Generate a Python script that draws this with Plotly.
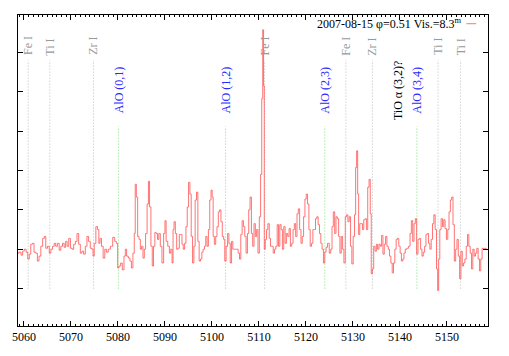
import plotly.graph_objects as go

# spectrum (wavelength in Angstrom, relative flux)
WAVELENGTH = [
    5058.67, 5059.16, 5059.58, 5059.85, 5060.27, 5060.63, 5060.99, 5061.27, 5061.62, 5061.96,
    5062.32, 5062.68, 5063.02, 5063.38, 5063.80, 5064.16, 5064.49, 5064.79, 5065.21, 5065.55,
    5065.91, 5066.27, 5066.60, 5066.90, 5067.32, 5067.66, 5068.02, 5068.38, 5068.71, 5069.01,
    5069.35, 5069.71, 5070.06, 5070.40, 5070.76, 5071.12, 5071.46, 5071.82, 5072.17, 5072.51,
    5072.87, 5073.23, 5073.57, 5073.93, 5074.28, 5074.62, 5074.77, 5075.13, 5075.47, 5075.83,
    5076.04, 5076.31, 5076.67, 5077.03, 5077.37, 5077.72, 5078.15, 5078.63, 5079.14, 5079.48,
    5079.83, 5080.05, 5080.40, 5080.74, 5081.10, 5081.46, 5081.67, 5082.01, 5082.37, 5082.72,
    5083.00, 5083.36, 5083.57, 5083.78, 5084.05, 5084.33, 5084.62, 5084.90, 5085.17, 5085.47,
    5085.74, 5086.02, 5086.38, 5086.59, 5086.86, 5087.16, 5087.43, 5087.70, 5088.00, 5088.27,
    5088.55, 5088.84, 5089.18, 5089.54, 5089.90, 5090.11, 5090.39, 5090.81, 5091.08, 5091.38,
    5091.65, 5091.80, 5092.07, 5092.35, 5092.64, 5092.92, 5093.19, 5093.49, 5093.76, 5094.03,
    5094.33, 5094.60, 5094.88, 5095.17, 5095.45, 5095.72, 5096.02, 5096.29, 5096.57, 5096.86,
    5097.14, 5097.41, 5097.71, 5097.98, 5098.25, 5098.55, 5098.82, 5099.10, 5099.39, 5099.67,
    5099.94, 5100.15, 5100.36, 5100.66, 5100.93, 5101.21, 5101.50, 5101.78, 5102.05, 5102.35,
    5102.62, 5102.83, 5103.19, 5103.47, 5103.74, 5104.04, 5104.31, 5104.58, 5104.88, 5105.15,
    5105.43, 5105.72, 5106.00, 5106.27, 5106.57, 5106.84, 5107.12, 5107.41, 5107.69, 5107.96,
    5108.26, 5108.53, 5108.80, 5109.10, 5109.37, 5109.65, 5109.94, 5110.22, 5110.49, 5110.70,
    5110.91, 5111.06, 5111.21, 5111.48, 5111.76, 5112.05, 5112.33, 5112.60, 5112.90, 5113.17,
    5113.45, 5113.74, 5114.02, 5114.29, 5114.59, 5114.86, 5115.13, 5115.43, 5115.70, 5115.98,
    5116.27, 5116.55, 5116.82, 5117.12, 5117.39, 5117.67, 5117.96, 5118.24, 5118.51, 5118.81,
    5119.08, 5119.35, 5119.65, 5119.92, 5120.20, 5120.49, 5120.77, 5121.04, 5121.34, 5121.61,
    5121.89, 5122.18, 5122.46, 5122.73, 5123.03, 5123.30, 5123.57, 5123.87, 5124.14, 5124.42,
    5124.78, 5125.14, 5125.41, 5125.68, 5125.98, 5126.25, 5126.53, 5126.82, 5127.10, 5127.37,
    5127.67, 5127.94, 5128.22, 5128.51, 5128.79, 5129.06, 5129.36, 5129.63, 5129.90, 5130.20,
    5130.47, 5130.68, 5130.90, 5131.11, 5131.32, 5131.59, 5131.89, 5132.16, 5132.44, 5132.73,
    5133.01, 5133.28, 5133.58, 5133.79, 5134.00, 5134.28, 5134.55, 5134.85, 5135.12, 5135.39,
    5135.69, 5135.96, 5136.24, 5136.53, 5136.81, 5137.08, 5137.38, 5137.65, 5137.92, 5138.22,
    5138.49, 5138.77, 5139.06, 5139.34, 5139.61, 5139.91, 5140.18, 5140.45, 5140.75, 5140.96,
    5141.30, 5141.66, 5142.02, 5142.29, 5142.57, 5142.86, 5143.13, 5143.41, 5143.71, 5143.98,
    5144.26, 5144.55, 5144.83, 5145.10, 5145.40, 5145.67, 5145.94, 5146.24, 5146.51, 5146.79,
    5147.08, 5147.36, 5147.63, 5147.93, 5148.14, 5148.35, 5148.62, 5148.90, 5149.19, 5149.47,
    5149.74, 5150.04, 5150.31, 5150.58, 5150.88, 5151.15, 5151.43, 5151.72, 5152.00, 5152.27,
    5152.57, 5152.84, 5153.11, 5153.41, 5153.68, 5153.96, 5154.25, 5154.53, 5154.80, 5155.10,
    5155.37, 5155.65, 5155.94, 5156.22, 5156.49, 5156.79, 5157.06, 5157.33, 5157.63, 5157.90,
    5158.18, 5158.47,
]
FLUX = [
    0.980, 0.985, 0.970, 0.990, 1.000, 0.985, 0.950, 0.975, 1.025, 1.030,
    0.985, 0.980, 0.940, 0.965, 1.015, 1.055, 1.065, 1.005, 1.015, 0.980,
    1.000, 1.015, 1.030, 1.015, 1.030, 0.995, 1.015, 1.030, 1.010, 1.040,
    1.015, 1.055, 1.005, 1.000, 1.025, 1.040, 1.080, 1.025, 0.980, 0.990,
    0.975, 1.015, 1.065, 1.040, 1.005, 1.000, 0.965, 1.030, 1.115, 1.100,
    1.030, 1.055, 1.015, 0.955, 1.000, 0.985, 1.000, 1.015, 1.060, 1.040,
    1.030, 0.905, 0.915, 0.930, 0.895, 0.965, 1.000, 0.965, 0.955, 0.940,
    0.905, 0.980, 1.080, 1.330, 1.265, 1.065, 1.050, 1.000, 1.015, 0.955,
    1.000, 1.080, 1.230, 1.345, 1.215, 1.015, 0.915, 1.015, 1.085, 1.080,
    1.050, 1.080, 1.015, 0.930, 1.080, 1.145, 1.040, 1.015, 0.980, 1.000,
    0.930, 1.100, 1.140, 1.080, 1.000, 1.005, 1.075, 1.075, 1.025, 1.000,
    1.030, 1.115, 1.215, 1.340, 1.280, 1.065, 0.930, 1.015, 1.250, 1.290,
    1.040, 0.940, 0.950, 0.985, 1.000, 1.015, 1.065, 1.015, 1.100, 1.250,
    1.300, 1.265, 1.065, 1.025, 1.065, 1.115, 1.190, 1.200, 1.140, 1.065,
    1.050, 0.940, 1.015, 1.080, 1.030, 0.930, 1.040, 1.000, 1.000, 1.000,
    1.000, 0.980, 0.950, 1.075, 1.145, 1.115, 1.065, 0.980, 1.080, 1.200,
    1.265, 1.080, 1.015, 1.130, 1.065, 1.100, 0.980, 1.165, 1.380, 1.765,
    2.115, 1.830, 1.000, 1.050, 1.100, 1.130, 1.055, 1.015, 1.015, 0.980,
    1.000, 1.015, 1.125, 1.015, 1.125, 1.100, 1.000, 1.115, 1.030, 1.080,
    1.065, 1.105, 1.015, 1.030, 1.100, 1.130, 1.065, 1.180, 1.205, 1.100,
    1.030, 1.065, 1.165, 1.255, 1.280, 1.230, 1.100, 1.015, 1.030, 1.100,
    1.100, 1.155, 1.165, 1.125, 1.080, 1.030, 1.000, 0.930, 0.985, 1.010,
    1.030, 0.980, 1.000, 1.115, 1.190, 1.080, 1.165, 1.155, 1.065, 0.980,
    1.065, 1.000, 0.930, 1.165, 1.175, 1.140, 1.165, 1.015, 0.925, 1.065,
    1.175, 1.415, 1.500, 1.280, 1.075, 1.130, 1.130, 1.100, 1.150, 1.155,
    1.100, 1.315, 1.355, 1.180, 0.875, 0.900, 1.015, 0.990, 1.025, 1.000,
    1.025, 1.015, 1.070, 0.975, 1.025, 1.065, 1.015, 1.000, 0.965, 0.930,
    0.880, 0.930, 1.000, 1.050, 1.055, 1.015, 0.980, 0.940, 0.950, 0.980,
    1.000, 1.005, 1.015, 1.080, 1.145, 1.040, 1.130, 1.155, 0.975, 1.050,
    1.055, 1.000, 0.965, 0.985, 1.015, 1.075, 1.080, 1.030, 1.000, 1.050,
    1.130, 1.175, 1.100, 0.900, 0.790, 0.950, 1.100, 1.155, 1.115, 1.150,
    1.105, 1.050, 1.100, 1.190, 1.250, 1.265, 1.125, 0.940, 1.000, 1.050,
    0.965, 0.850, 0.990, 0.915, 0.930, 0.950, 1.015, 1.075, 1.015, 0.980,
    0.900, 1.000, 0.965, 0.980, 1.005, 0.950, 0.890, 0.950, 1.005, 1.000,
    1.005, 1.000,
]

# atomic line identifications (gray dotted markers)
ATOM_NAMES = ["Fe I", "Ti I", "Zr I", "Fe I", "Fe I", "Zr I", "Ti I", "Ti I"]
ATOM_WAVES = [5060.9, 5065.5, 5074.8, 5111.2, 5128.5, 5134.15, 5148.1, 5152.9]

# AlO band heads (green dotted markers, blue labels)
ALO_NAMES = ["AlO (0,1)", "AlO (1,2)", "AlO (2,3)", "AlO (3,4)"]
ALO_WAVES = [5080.1, 5102.9, 5124.0, 5143.6]

TIO_NAME = "TiO α (3,2)?"
TIO_WAVE = 5139.55

LEGEND_TEXT = "2007-08-15 φ=0.51 Vis.=8.3<sup>m</sup>"

X_RANGE = [5058.73, 5158.74]
Y_RANGE = [0.61, 2.19]

SERIF = "Liberation Serif, Times New Roman, serif"
SPEC_COLOR = "rgba(255,70,70,0.75)"

fig = go.Figure()

for wave in ATOM_WAVES:
    fig.add_shape(type="line", x0=wave, x1=wave, y0=0.8, y1=1.96,
                  line=dict(color="#bdbdbd", width=1, dash="1px,2px"), layer="below")
for wave in ALO_WAVES:
    fig.add_shape(type="line", x0=wave, x1=wave, y0=0.8, y1=1.625,
                  line=dict(color="#7fe07f", width=1, dash="1px,2px"), layer="below")

fig.add_trace(go.Scatter(
    x=WAVELENGTH, y=FLUX, mode="lines", line_shape="hvh",
    line=dict(color=SPEC_COLOR, width=1), showlegend=False,
))

for name, wave in zip(ATOM_NAMES, ATOM_WAVES):
    fig.add_annotation(x=wave, y=1.975, text=name, textangle=-90, showarrow=False,
                       xanchor="center", yanchor="bottom",
                       font=dict(family=SERIF, size=12, color="#999999"))
for name, wave in zip(ALO_NAMES, ALO_WAVES):
    fig.add_annotation(x=wave, y=1.68, text=name, textangle=-90, showarrow=False,
                       xanchor="center", yanchor="bottom",
                       font=dict(family=SERIF, size=12, color="#2a2aff"))
fig.add_annotation(x=TIO_WAVE, y=1.645, text=TIO_NAME, textangle=-90, showarrow=False,
                   xanchor="center", yanchor="bottom",
                   font=dict(family=SERIF, size=12, color="black"))

# gnuplot-style key: text then a short line sample to its right
fig.add_annotation(x=0.946, y=0.972, xref="paper", yref="paper", text=LEGEND_TEXT,
                   showarrow=False, xanchor="right", yanchor="middle",
                   font=dict(family=SERIF, size=12, color="black"))
fig.add_shape(type="line", xref="paper", yref="paper", x0=0.954, x1=0.975,
              y0=0.972, y1=0.972, line=dict(color=SPEC_COLOR, width=1))

fig.update_xaxes(
    range=X_RANGE, dtick=10, tick0=5060, ticks="inside", ticklen=5,
    tickcolor="black", showline=True, linecolor="black", linewidth=1, mirror="ticks",
    showgrid=False, zeroline=False,
    minor=dict(dtick=1, tick0=5060, ticks="inside", ticklen=2, tickcolor="black"),
    tickfont=dict(family=SERIF, size=12, color="black"),
)
fig.update_yaxes(
    range=Y_RANGE, dtick=0.2, tick0=1.0, ticks="inside", ticklen=5,
    tickcolor="black", showline=True, linecolor="black", linewidth=1, mirror="ticks",
    showgrid=False, zeroline=False, showticklabels=False,
)
fig.update_layout(
    width=509, height=356,
    margin=dict(l=14, r=21, t=15, b=25),
    plot_bgcolor="white", paper_bgcolor="white",
    font=dict(family=SERIF, size=12, color="black"),
)

# drop the default page margin so the figure sits at the window's corner
PAGE_FIX = (
    "document.documentElement.style.margin='0';"
    "document.body.style.margin='0';"
    "document.documentElement.style.overflow='hidden';"
    "document.body.style.overflow='hidden';"
)

fig.write_html(
    "out.html",
    config={"displayModeBar": False, "responsive": False},
    post_script=PAGE_FIX,
)
